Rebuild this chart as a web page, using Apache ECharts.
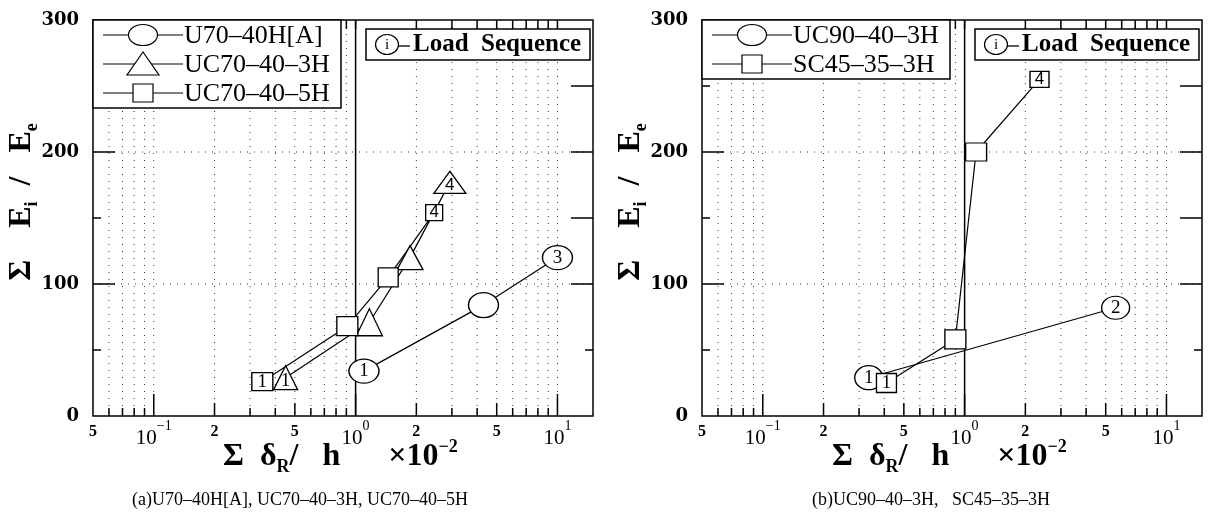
<!DOCTYPE html>
<html><head><meta charset="utf-8">
<script src="https://cdn.jsdelivr.net/npm/echarts@6/dist/echarts.min.js"></script>
<style>html,body{margin:0;padding:0;background:#fff}#c{width:1211px;height:515px}</style>
</head><body><div id="c"></div>
<script>
// ---------- data ----------
const xTickValues = [0.06,0.07,0.08,0.09,0.1,0.2,0.3,0.4,0.5,0.6,0.7,0.8,0.9,1,2,3,4,5,6,7,8,9,10];
const xLabelValues = [0.05,0.1,0.2,0.5,1,2,5,10];
const xLabelMain = ['5','10','2','5','10','2','5','10'];
const xLabelExp  = ['','−1','','','0','','','1'];
const yTickValues = [50,100,150,200,250];
const yGridValues = [100,200];
const yLabelValues = [0,100,200,300];

// panel (a)
const u70_x = [1.1, 4.3, 10];
const u70_y = [34, 84, 120];
const u70_tag = ['1','','3'];
const uc70_3_x = [0.45, 1.17, 1.86, 2.93];
const uc70_3_y = [29, 71, 120, 177];
const uc70_3_tag = ['1','','','4'];
const uc70_5_x = [0.345, 0.91, 1.45, 2.45];
const uc70_5_y = [26, 68, 105, 154];
const uc70_5_tag = ['1','','','4'];
// panel (b)
const uc90_x = [0.335, 5.6];
const uc90_y = [29, 82];
const uc90_tag = ['1','2'];
const sc45_x = [0.41, 0.9, 1.14, 2.35];
const sc45_y = [25, 58, 200, 255];
const sc45_tag = ['1','','','4'];

const legendA = ['U70–40H[A]','UC70–40–3H','UC70–40–5H'];
const legendB = ['UC90–40–3H','SC45–35–3H'];
const captionA = '(a)U70–40H[A], UC70–40–3H, UC70–40–5H';
const captionB = '(b)UC90–40–3H,   SC45–35–3H';

// ---------- layout / style ----------
const X_MIN = 0.05, X_MAX = 15, Y_MIN = 0, Y_MAX = 300;
const GL = [93, 702], GT = 20, GW = 500, GH = 396;
const SERIF = '"Liberation Serif","Times New Roman",serif';
const SANS = '"Liberation Sans",Arial,sans-serif';
const CIRCLE = 'path://M50,0A50,50,0,1,1,50,100A50,50,0,1,1,50,0Z';

function log10(v){return Math.log(v)/Math.LN10;}

function xTickItem(params, api){
  const v = api.value(0);
  const pb = api.coord([v, Y_MIN]);
  const pt = api.coord([v, Y_MAX]);
  const lg = log10(v);
  const isDecade = Math.abs(lg - Math.round(lg)) < 1e-6;
  const mant = Math.round(v / Math.pow(10, Math.floor(lg + 1e-9)));
  const len = isDecade ? 22 : ((mant === 2 || mant === 5) ? 13 : 8);
  const isOne = Math.abs(v - 1) < 1e-9;
  return {type:'group', children:[
    {type:'line', shape:{x1:pb[0], y1:pt[1], x2:pb[0], y2:pb[1]},
     style:{stroke: isOne ? '#000' : '#333', lineWidth: isOne ? 1.5 : 1, lineDash: isOne ? null : [1, 6]}},
    {type:'line', shape:{x1:pb[0], y1:pb[1], x2:pb[0], y2:pb[1]-len}, style:{stroke:'#000', lineWidth:1.5}},
    {type:'line', shape:{x1:pt[0], y1:pt[1], x2:pt[0], y2:pt[1]+9}, style:{stroke:'#000', lineWidth:1.5}}
  ]};
}
function xLabelItem(params, api){
  const i = api.value(2);
  const p = api.coord([api.value(0), Y_MIN]);
  const exp = xLabelExp[i];
  const text = exp ? '{m|' + xLabelMain[i] + '}{e|' + exp + '}' : '{s|' + xLabelMain[i] + '}';
  return {type:'text', x:p[0], y:p[1] + (exp ? 3 : 8), style:{
    text, align:'center', verticalAlign:'top', fill:'#000',
    rich:{
      m:{fontFamily:SERIF, fontSize:21, lineHeight:30, verticalAlign:'bottom', fill:'#000'},
      e:{fontFamily:SERIF, fontSize:14, lineHeight:16, verticalAlign:'top', fill:'#000'},
      s:{fontFamily:SERIF, fontSize:16, fontWeight:'bold', lineHeight:16, verticalAlign:'top', fill:'#000'}
    }}};
}
function yTickItem(params, api){
  const v = api.value(1);
  const pl = api.coord([X_MIN, v]);
  const pr = api.coord([X_MAX, v]);
  const major = v % 100 === 0;
  const lenL = major ? 22 : 8;
  const lenR = v >= 100 ? 22 : 8;
  const ch = [
    {type:'line', shape:{x1:pl[0], y1:pl[1], x2:pl[0]+lenL, y2:pl[1]}, style:{stroke:'#000', lineWidth:1.5}},
    {type:'line', shape:{x1:pr[0], y1:pr[1], x2:pr[0]-lenR, y2:pr[1]}, style:{stroke:'#000', lineWidth:1.5}}
  ];
  if (yGridValues.indexOf(v) >= 0) {
    ch.unshift({type:'line', shape:{x1:pl[0], y1:pl[1], x2:pr[0], y2:pr[1]}, style:{stroke:'#333', lineWidth:1, lineDash:[1, 6]}});
  }
  return {type:'group', children:ch};
}
function yLabelItem(params, api){
  const v = api.value(1);
  const p = api.coord([X_MIN, v]);
  return {type:'text', x:p[0]-14, y:p[1], style:{text:String(v), align:'right', verticalAlign:'middle',
    fontFamily:'"DejaVu Serif",serif', fontSize:18, fontWeight:'bold', fill:'#000'}};
}

function decoSeries(gi){
  const base = {type:'custom', xAxisIndex:gi, yAxisIndex:gi, clip:false, silent:true, z:1, animation:false};
  return [
    Object.assign({}, base, {renderItem:xTickItem, data:xTickValues.map(v => [v, 0])}),
    Object.assign({}, base, {renderItem:xLabelItem, data:xLabelValues.map((v,i) => [v, 0, i])}),
    Object.assign({}, base, {renderItem:yTickItem, data:yTickValues.map(v => [X_MIN, v])}),
    Object.assign({}, base, {renderItem:yLabelItem, data:yLabelValues.map(v => [X_MIN, v])})
  ];
}

function lineSeries(gi, name, xs, ys, tags, symbol, sizes, labelOffsetY){
  return {
    type:'line', name, xAxisIndex:gi, yAxisIndex:gi, symbol, showAllSymbol:true, clip:false,
    animation:false, z:3,
    data: xs.map((x,i) => ({
      value:[x, ys[i]], symbolSize: sizes[i],
      label:{show: !!tags[i], formatter: tags[i], fontFamily: tags[i] === '4' ? SANS : SERIF,
             fontSize: tags[i] === '4' ? 17 : 19}
    })),
    lineStyle:{color:'#000', width:1.2},
    itemStyle:{color:'#fff', borderColor:'#000', borderWidth:1.3, opacity:1},
    label:{position:'inside', color:'#000', offset:[0, labelOffsetY || 0]},
    emphasis:{disabled:true}
  };
}

// ---------- graphic (legends, titles, captions) ----------
function legendGraphic(left, names, symbols){
  const g = [];
  const h = names.length * 29 + 1;
  g.push({type:'rect', shape:{x:left, y:GT, width:248, height:h}, style:{fill:'#fff', stroke:'#000', lineWidth:1.5}, z:100});
  names.forEach((n, i) => {
    const cy = GT + 15 + i * 29, cx = left + 50;
    g.push({type:'line', shape:{x1:left+10, y1:cy, x2:left+90, y2:cy}, style:{stroke:'#000', lineWidth:1.2}, z:101});
    const st = {fill:'#fff', stroke:'#000', lineWidth:1.2};
    if (symbols[i] === 'circle') g.push({type:'ellipse', shape:{cx, cy, rx:14.5, ry:10.5}, style:st, z:102});
    if (symbols[i] === 'triangle') g.push({type:'polygon', shape:{points:[[cx, cy-12],[cx-16, cy+11],[cx+16, cy+11]]}, style:st, z:102});
    if (symbols[i] === 'square') g.push({type:'rect', shape:{x:cx-10, y:cy-9, width:20, height:18}, style:st, z:102});
    g.push({type:'text', x:left+91, y:cy+1, style:{text:n, fontFamily:SERIF, fontSize:26, fill:'#000', align:'left', verticalAlign:'middle'}, z:102});
  });
  // load sequence box
  const bx = left + 273, by = GT + 9;
  g.push({type:'rect', shape:{x:bx, y:by, width:224, height:31}, style:{fill:'#fff', stroke:'#000', lineWidth:1.5}, z:100});
  g.push({type:'ellipse', shape:{cx:bx+21, cy:by+15.5, rx:11.5, ry:10}, style:{fill:'#fff', stroke:'#000', lineWidth:1.2}, z:101});
  g.push({type:'text', x:bx+21, y:by+16, style:{text:'i', fontFamily:SERIF, fontSize:15, fill:'#000', align:'center', verticalAlign:'middle'}, z:102});
  g.push({type:'line', shape:{x1:bx+32.5, y1:by+17, x2:bx+44, y2:by+17}, style:{stroke:'#000', lineWidth:1.3}, z:101});
  g.push({type:'text', x:bx+47, y:by+16, style:{text:'Load  Sequence', fontFamily:SERIF, fontSize:25, fontWeight:'bold', fill:'#000', align:'left', verticalAlign:'middle'}, z:102});
  return g;
}

function titleGraphic(left, caption, capX){
  const richT = {
    b:{fontFamily:SERIF, fontSize:32, fontWeight:'bold', lineHeight:38, verticalAlign:'middle', fill:'#000'},
    sub:{fontFamily:SERIF, fontSize:18, fontWeight:'bold', lineHeight:18, verticalAlign:'bottom', fill:'#000'},
    sup:{fontFamily:SERIF, fontSize:18, fontWeight:'bold', lineHeight:18, verticalAlign:'top', fill:'#000'}
  };
  return [
    {type:'text', x:left - 71, y:202, rotation:Math.PI/2, style:{
      text:'{b|Σ    E}{sub|i}{b|  /   E}{sub|e}', rich:richT, align:'center', verticalAlign:'middle'}, z:50},
    {type:'text', x:left + 130, y:457, style:{
      text:'{b|Σ  δ}{sub|R}{b|/   h      ×10}{sup|−2}', rich:richT, align:'left', verticalAlign:'middle'}, z:50},
    {type:'text', x:capX, y:500, style:{text:caption, fontFamily:SERIF, fontSize:18, fill:'#000', align:'left', verticalAlign:'middle'}, z:50}
  ];
}

const chart = echarts.init(document.getElementById('c'), null, {renderer:'canvas', width:1211, height:515});
const grids = GL.map(l => ({left:l, top:GT, width:GW, height:GH, show:true, borderColor:'#000', borderWidth:1.5, backgroundColor:'transparent'}));
const xAxes = GL.map((l,i) => ({type:'log', logBase:10, gridIndex:i, min:X_MIN, max:X_MAX, show:false}));
const yAxes = GL.map((l,i) => ({type:'value', gridIndex:i, min:Y_MIN, max:Y_MAX, show:false}));

const series = [].concat(
  decoSeries(0), decoSeries(1),
  [
    lineSeries(0, 'U70-40H[A]', u70_x, u70_y, u70_tag, CIRCLE, [[30,24],[30,25],[30,24]], 0),
    lineSeries(0, 'UC70-40-3H', uc70_3_x, uc70_3_y, uc70_3_tag, 'triangle', [[24,24],[26,27],[26,24],[32,22]], 3),
    lineSeries(0, 'UC70-40-5H', uc70_5_x, uc70_5_y, uc70_5_tag, 'rect', [[21,18],[21,19],[20,19],[17,16]], 0),
    lineSeries(1, 'UC90-40-3H', uc90_x, uc90_y, uc90_tag, CIRCLE, [[28,24],[28,23]], 0),
    lineSeries(1, 'SC45-35-3H', sc45_x, sc45_y, sc45_tag, 'rect', [[20,19],[21,19],[21,18],[19,16]], 0)
  ]
);

chart.setOption({
  animation:false,
  backgroundColor:'#fff',
  grid:grids, xAxis:xAxes, yAxis:yAxes, series,
  graphic:[].concat(
    legendGraphic(GL[0], legendA, ['circle','triangle','square']),
    legendGraphic(GL[1], legendB, ['circle','square']),
    titleGraphic(GL[0], captionA, 132),
    titleGraphic(GL[1], captionB, 812)
  )
});
</script></body></html>
